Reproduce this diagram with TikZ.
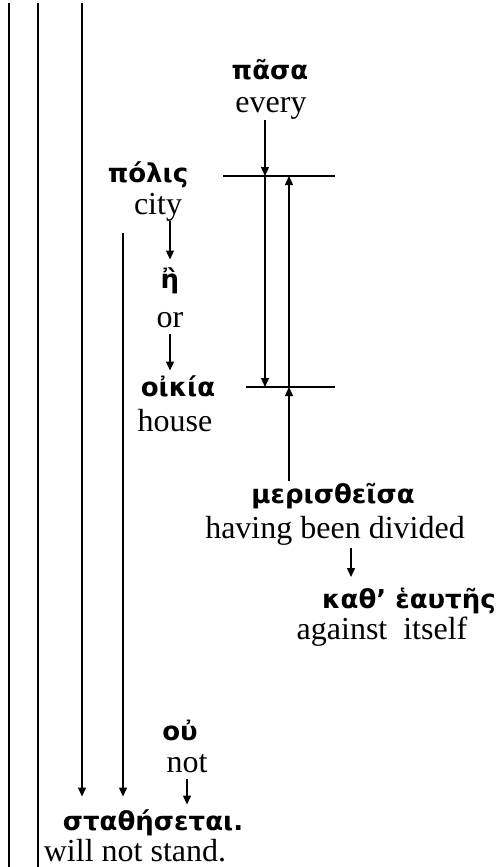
\documentclass[tikz,border=0pt]{standalone}
\usepackage{fontspec}
\setmainfont{Liberation Serif}
\newfontfamily\grk{DejaVu Sans}
\usetikzlibrary{arrows.meta}

\tikzset{
 gr/.style={font=\grk\bfseries\fontsize{26}{30}\selectfont, anchor=base, inner sep=1pt},
 en/.style={font=\fontsize{32}{36}\selectfont, anchor=base, inner sep=1pt, text depth=0.25em},
 ar/.style={-{Triangle[length=9pt,width=8pt]}, shorten <=3pt, shorten >=3pt}
}

\begin{document}
\begin{tikzpicture}[x=1pt,y=-1pt,line width=1.4pt]
\useasboundingbox (0,0) rectangle (503,867);

% words
\node[gr] (pasa)   at (270,79)  {πᾶσα};
\node[en] (every)  at (271,112) {every};
\node[gr] (polis)  at (148,182) {πόλις};
\node[en] (city)   at (158,214) {city};
\node[gr] (eta)    at (170,288) {ἢ};
\node[en] (or)     at (170,327) {or};
\node[gr] (oikia)  at (178,396) {οἰκία};
\node[en] (house)  at (175,431) {house};
\node[gr] (meris)  at (333,503) {μερισθεῖσα};
\node[en] (having) at (335,538) {having been divided};
\node[gr] (kath)   at (409,608) {καθ’ ἑαυτῆς};
\node[en] (against) at (382,639) {against\ \ itself};
\node[gr] (ou)     at (180,740) {οὐ};
\node[en] (not)    at (187,772) {not};
\node[gr] (stath)  at (153,830) {σταθήσεται.};
\node[en,text depth=0pt,inner sep=0pt] (will) at (135,861) {will not stand.};

% bars
\coordinate (topL) at (223,176); \coordinate (topR) at (335,176);
\coordinate (lowL) at (246,387); \coordinate (lowR) at (335,387);
\coordinate (topA) at (265,176); \coordinate (topB) at (289,176);
\coordinate (lowA) at (265,387); \coordinate (lowB) at (289,387);
\draw (topL) -- (topR);
\draw (lowL) -- (lowR);
\draw[ar,shorten <=4pt,shorten >=0pt] (topA |- every.south) -- (topA);
\draw[ar,shorten <=0pt,shorten >=0pt] (topA) -- (lowA);
\draw[ar,shorten <=0pt,shorten >=0pt] (lowB) -- (topB);
\draw[ar,shorten <=0pt,shorten >=0pt] (meris.north -| lowB) -- (lowB);

% small arrows
\coordinate (kin) at (351,577);
\draw[ar,shorten >=6pt] (eta.north |- city.south) -- (eta.north);
\draw[ar] (or.south) -- (or.south |- oikia.north);
\draw[ar,shorten <=6pt,shorten >=0pt] (kin |- having.south) -- (kin);
\draw[ar] (not.south) -- (not.south |- stath.north);

% rails
\coordinate (railA) at (9,3);  \coordinate (railAb) at (9,867);
\coordinate (railB) at (38,3); \coordinate (railBb) at (38,867);
\coordinate (railC) at (82,3);
\coordinate (railD) at (123,233);
\draw (railA) -- (railAb);
\draw (railB) -- (railBb);
\draw[ar,shorten <=0pt,shorten >=11pt] (railC) -- (railC |- stath.north);
\draw[ar,shorten <=0pt,shorten >=11pt] (railD) -- (railD |- stath.north);

\end{tikzpicture}
\end{document}
